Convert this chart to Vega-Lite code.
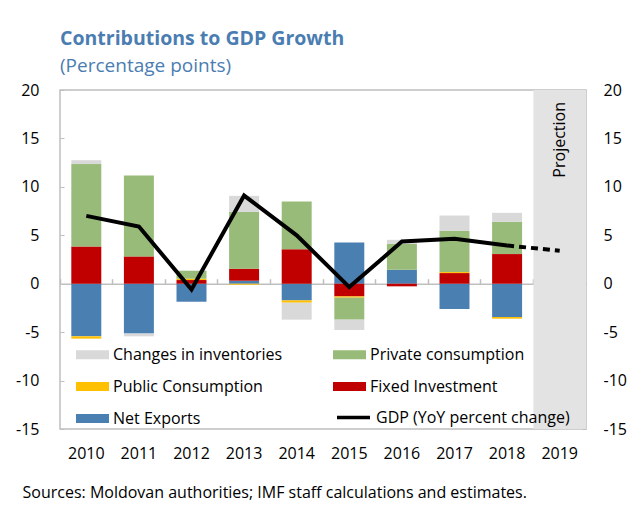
{
  "$schema": "https://vega.github.io/schema/vega-lite/v6.json",
  "width": 526,
  "height": 339,
  "autosize": "none",
  "padding": {"left": 60, "top": 90, "right": 42, "bottom": 79},
  "title": {
    "text": "Contributions to GDP Growth",
    "subtitle": "(Percentage points)",
    "anchor": "start",
    "frame": "group",
    "offset": 5,
    "font": "Open Sans",
    "fontSize": 19.5,
    "fontWeight": "bold",
    "color": "#4a7db1",
    "subtitleFont": "Open Sans",
    "subtitleFontSize": 19,
    "subtitleColor": "#4a7db1",
    "subtitlePadding": 8
  },
  "config": {
    "font": "Open Sans",
    "view": {"stroke": "#bfbfbf", "strokeWidth": 1.5},
    "axis": {"labelFont": "Open Sans", "labelFontSize": 16, "labelColor": "#000000", "grid": false, "domainColor": "#bfbfbf", "tickColor": "#bfbfbf"},
    "legend": {"labelFont": "Open Sans", "labelFontSize": 16, "labelColor": "#000000", "labelLimit": 400}
  },
  "datasets": {
    "contrib": [
      {"year": "2010", "comp": "Net Exports", "value": -5.43},
      {"year": "2010", "comp": "Fixed Investment", "value": 3.85},
      {"year": "2010", "comp": "Public Consumption", "value": -0.24},
      {"year": "2010", "comp": "Private consumption", "value": 8.5},
      {"year": "2010", "comp": "Changes in inventories", "value": 0.4},
      {"year": "2011", "comp": "Net Exports", "value": -5.15},
      {"year": "2011", "comp": "Fixed Investment", "value": 2.82},
      {"year": "2011", "comp": "Public Consumption", "value": 0.0},
      {"year": "2011", "comp": "Private consumption", "value": 8.35},
      {"year": "2011", "comp": "Changes in inventories", "value": -0.28},
      {"year": "2012", "comp": "Net Exports", "value": -1.86},
      {"year": "2012", "comp": "Fixed Investment", "value": 0.38},
      {"year": "2012", "comp": "Public Consumption", "value": 0.14},
      {"year": "2012", "comp": "Private consumption", "value": 0.82},
      {"year": "2012", "comp": "Changes in inventories", "value": 0.0},
      {"year": "2013", "comp": "Net Exports", "value": 0.31},
      {"year": "2013", "comp": "Fixed Investment", "value": 1.24},
      {"year": "2013", "comp": "Public Consumption", "value": -0.1},
      {"year": "2013", "comp": "Private consumption", "value": 5.87},
      {"year": "2013", "comp": "Changes in inventories", "value": 1.65},
      {"year": "2014", "comp": "Net Exports", "value": -1.72},
      {"year": "2014", "comp": "Fixed Investment", "value": 3.57},
      {"year": "2014", "comp": "Public Consumption", "value": -0.24},
      {"year": "2014", "comp": "Private consumption", "value": 4.92},
      {"year": "2014", "comp": "Changes in inventories", "value": -1.75},
      {"year": "2015", "comp": "Net Exports", "value": 4.26},
      {"year": "2015", "comp": "Fixed Investment", "value": -1.31},
      {"year": "2015", "comp": "Public Consumption", "value": -0.13},
      {"year": "2015", "comp": "Private consumption", "value": -2.27},
      {"year": "2015", "comp": "Changes in inventories", "value": -1.07},
      {"year": "2016", "comp": "Net Exports", "value": 1.44},
      {"year": "2016", "comp": "Fixed Investment", "value": -0.27},
      {"year": "2016", "comp": "Public Consumption", "value": 0.0},
      {"year": "2016", "comp": "Private consumption", "value": 2.68},
      {"year": "2016", "comp": "Changes in inventories", "value": 0.41},
      {"year": "2017", "comp": "Net Exports", "value": -2.61},
      {"year": "2017", "comp": "Fixed Investment", "value": 1.1},
      {"year": "2017", "comp": "Public Consumption", "value": 0.1},
      {"year": "2017", "comp": "Private consumption", "value": 4.26},
      {"year": "2017", "comp": "Changes in inventories", "value": 1.58},
      {"year": "2018", "comp": "Net Exports", "value": -3.44},
      {"year": "2018", "comp": "Fixed Investment", "value": 3.06},
      {"year": "2018", "comp": "Public Consumption", "value": -0.17},
      {"year": "2018", "comp": "Private consumption", "value": 3.33},
      {"year": "2018", "comp": "Changes in inventories", "value": 0.93}
    ],
    "gdp": [
      {"year": "2010", "gdp": 7.0},
      {"year": "2011", "gdp": 5.9},
      {"year": "2012", "gdp": -0.6},
      {"year": "2013", "gdp": 9.1},
      {"year": "2014", "gdp": 5.0},
      {"year": "2015", "gdp": -0.35},
      {"year": "2016", "gdp": 4.35},
      {"year": "2017", "gdp": 4.65},
      {"year": "2018", "gdp": 3.95}
    ],
    "gdp_proj": [
      {"year": "2018", "gdp": 3.95},
      {"year": "2019", "gdp": 3.4}
    ],
    "proj": [
      {"year": "2019", "label": "Projection"}
    ]
  },
  "resolve": {"axis": {"x": "independent", "y": "independent"}},
  "layer": [
    {
      "data": {"name": "proj"},
      "mark": {"type": "bar", "color": "#e3e3e3", "width": {"band": 1}},
      "encoding": {
        "x": {"field": "year", "type": "ordinal", "scale": {"domain": ["2010","2011","2012","2013","2014","2015","2016","2017","2018","2019"], "paddingInner": 0, "paddingOuter": 0}, "axis": null},
        "y": {"datum": -15, "type": "quantitative", "scale": {"domain": [-15, 20], "nice": false, "zero": false}, "axis": null},
        "y2": {"datum": 20}
      }
    },
    {
      "data": {"name": "contrib"},
      "transform": [
        {"calculate": "indexof(['Net Exports','Fixed Investment','Public Consumption','Private consumption','Changes in inventories'], datum.comp)", "as": "k"}
      ],
      "mark": {"type": "bar", "width": {"band": 0.57}},
      "encoding": {
        "x": {"field": "year", "type": "ordinal", "axis": {"orient": "bottom", "labelAngle": 0, "ticks": false, "domain": false, "labelPadding": 16, "title": "Sources: Moldovan authorities; IMF staff calculations and estimates.", "titleFont": "Open Sans", "titleFontSize": 16, "titleFontWeight": "normal", "titleColor": "#000000", "titleAlign": "left", "titleAnchor": "start", "titleX": -38, "titleY": 63, "titleBaseline": "middle"}},
        "y": {"field": "value", "type": "quantitative", "stack": "zero", "axis": {"orient": "left", "values": [-15,-10,-5,0,5,10,15,20], "labelExpr": "replace(datum.label, '−', '-')", "title": null, "tickSize": -4, "labelPadding": 25, "domain": false}},
        "color": {"field": "comp", "type": "nominal",
          "scale": {"domain": ["Changes in inventories","Public Consumption","Net Exports","Private consumption","Fixed Investment"], "range": ["#d9d9d9","#ffc000","#4a7fb2","#98bb79","#c00000"]},
          "legend": {"title": null, "orient": "none", "legendX": 16, "legendY": 248, "columns": 2, "columnPadding": 50, "rowPadding": 7, "symbolType": "M-1,-0.27H1V0.27H-1Z", "symbolSize": 1089, "symbolStrokeWidth": 0, "labelOffset": 4}},
        "order": {"field": "k", "type": "quantitative", "sort": "ascending"}
      }
    },
    {
      "data": {"name": "gdp"},
      "mark": {"type": "line", "strokeWidth": 4},
      "encoding": {
        "x": {"field": "year", "type": "ordinal", "axis": null},
        "y": {"field": "gdp", "type": "quantitative", "axis": {"orient": "right", "values": [-15,-10,-5,0,5,10,15,20], "labelExpr": "replace(datum.label, '−', '-')", "title": null, "tickSize": -4, "labelPadding": 21, "domain": false}},
        "stroke": {"datum": "GDP (YoY percent change)", "scale": {"range": ["#000000"]},
          "legend": {"title": null, "orient": "none", "legendX": 275, "legendY": 309, "symbolType": "stroke", "symbolSize": 1089, "symbolStrokeWidth": 3.5, "labelOffset": 4}}
      }
    },
    {
      "data": {"name": "gdp_proj"},
      "mark": {"type": "line", "strokeWidth": 4, "strokeDash": [7, 5], "color": "#000000"},
      "encoding": {
        "x": {"field": "year", "type": "ordinal", "axis": null},
        "y": {"field": "gdp", "type": "quantitative", "axis": null}
      }
    },
    {
      "data": {"name": "proj"},
      "mark": {"type": "text", "angle": 270, "align": "right", "baseline": "middle", "dx": -12, "fontSize": 16, "font": "Open Sans", "color": "#000000"},
      "encoding": {
        "x": {"field": "year", "type": "ordinal", "axis": {"orient": "top", "offset": -193.7, "labels": false, "title": null, "bandPosition": 0, "ticks": true, "tickSize": 5, "tickWidth": 1.5, "domainWidth": 1.5, "domainColor": "#bfbfbf", "tickColor": "#bfbfbf"}},
        "y": {"datum": 20, "type": "quantitative", "axis": null},
        "text": {"field": "label"}
      }
    }
  ]
}
